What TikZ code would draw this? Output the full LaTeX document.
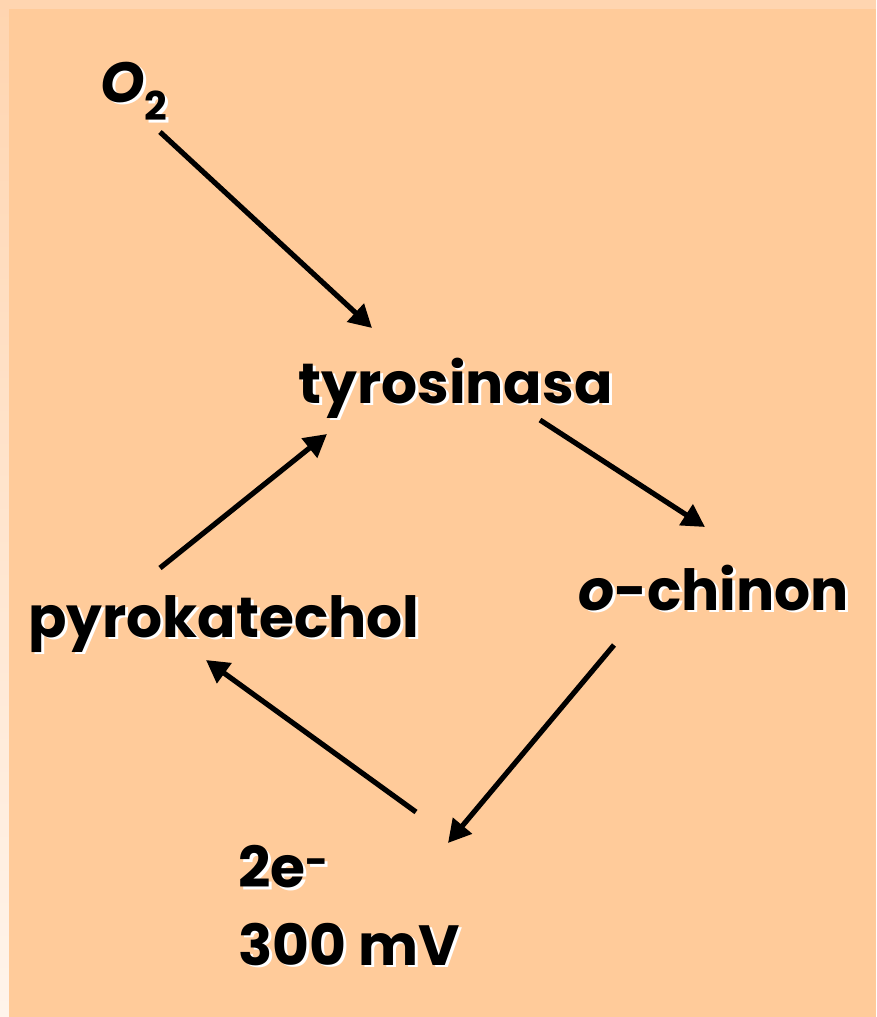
\documentclass[tikz,border=0pt]{standalone}
\usepackage{fontspec}
\setmainfont{Poppins}[BoldFont={* Bold}]
\usetikzlibrary{arrows.meta}
\definecolor{peach}{RGB}{255,203,154}
\definecolor{striptop}{RGB}{255,213,176}
\definecolor{stripbot}{RGB}{255,244,235}
% text with a white drop shadow
\newcommand\shd[1]{\makebox[0pt][l]{\hspace{2.2pt}\raisebox{-2.2pt}{\color{white}#1}}#1}

\begin{document}
\begin{tikzpicture}[x=0.75pt,y=-0.75pt]
% Define styles
\tikzset{chem/.style={anchor=base west, inner sep=0pt, font=\fontsize{42.5}{58}\selectfont\bfseries},
  arrow/.style={line width=3.9pt,-{Triangle[length=17pt,width=18pt]}}}
% Background
\useasboundingbox (0,0) rectangle (876,1017);
\shade[top color=striptop, bottom color=stripbot] (0,0) rectangle (9,1017);
\fill[striptop] (9,0) rectangle (876,9);
\fill[peach] (9,9) rectangle (876,1017);
% Place nodes
\node[chem] (o2) at (100,102) {\shd{\textit{O}\textsubscript{2}}};
\node[chem] (tyr) at (298,403) {\shd{tyrosinasa}};
\node[chem] (chinon) at (578,610) {\shd{\textit{o}-chinon}};
\node[chem] (pyro) at (28,637) {\shd{pyrokatechol}};
\node[chem, align=left] (el) at (238,965) {\shd{2e\textsuperscript{-}}\\\shd{300 mV}};
% Draw arrows
\draw[arrow] ([shift={(60,30)}]o2.base west) -- ([shift={(74,-75)}]tyr.base west);
\draw[arrow] ([shift={(242,17)}]tyr.base west) -- ([shift={(127,-83)}]chinon.base west);
\draw[arrow] ([shift={(36,35)}]chinon.base west) -- ([shift={(210,-122)}]el.base west);
\draw[arrow] ([shift={(178,-153)}]el.base west) -- ([shift={(178,23)}]pyro.base west);
\draw[arrow] ([shift={(132,-69)}]pyro.base west) -- ([shift={(29,31)}]tyr.base west);
\end{tikzpicture}
\end{document}
